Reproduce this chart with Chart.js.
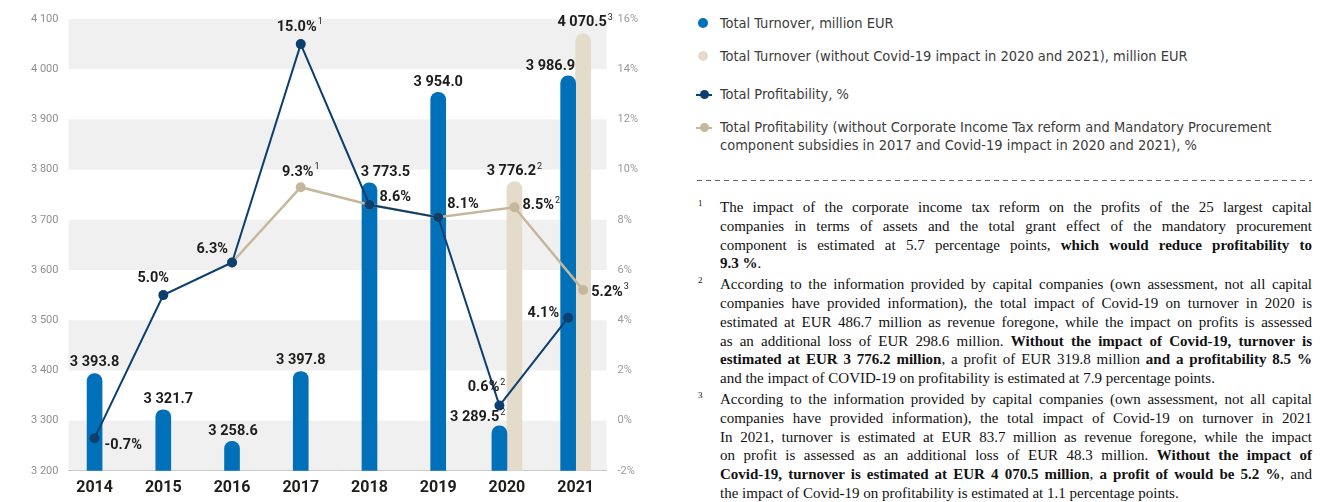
<!DOCTYPE html>
<html>
<head>
<meta charset="utf-8">
<script src="https://cdn.jsdelivr.net/npm/chart.js@4.4.0/dist/chart.umd.min.js"></script>
<style>
  body { margin: 0; background: #fff; width: 1326px; height: 502px; overflow: hidden; position: relative; }
  #chartBox { position: absolute; left: 0; top: 0; width: 655px; height: 502px; }
  #legend { position: absolute; left: 0; top: 0; font-family: "Liberation Sans Narrow", "DejaVu Sans Condensed", Roboto, sans-serif; font-size: 14.5px; color: #3c3c3b; }
  .item { position: absolute; left: 720px; white-space: nowrap; line-height: 18px; }
  .mark { position: absolute; }
  .dash { position: absolute; left: 697px; top: 180px; width: 615px; height: 1px;
          background: repeating-linear-gradient(to right, #666 0 5px, transparent 5px 9px); }
  #notes { position: absolute; left: 720px; top: 198px; width: 592px; font-family: "Liberation Serif", "DejaVu Serif", serif; font-size: 15px; line-height: 18.8px; color: #111; }
  #notes .fn { position: relative; margin-top: 2px; }
  #notes .fn:first-child { margin-top: 0; }
  #notes .num { position: absolute; left: -22px; top: -4px; font-size: 9px; }
  #notes .j { text-align: justify; text-align-last: justify; white-space: nowrap; }
  #notes .e { white-space: nowrap; }
</style>
</head>
<body>
<div id="chartBox"><canvas id="chart"></canvas></div>
<div id="legend"></div>
<div class="dash"></div>
<div id="notes">
  <div class="fn"><span class="num">1</span>
    <div class="j">The impact of the corporate income tax reform on the profits of the 25 largest capital</div>
    <div class="j">companies in terms of assets and the total grant effect of the mandatory procurement</div>
    <div class="j">component is estimated at 5.7 percentage points, <b>which would reduce profitability to</b></div>
    <div class="e"><b>9.3 %</b>.</div>
  </div>
  <div class="fn"><span class="num">2</span>
    <div class="j">According to the information provided by capital companies (own assessment, not all capital</div>
    <div class="j">companies have provided information), the total impact of Covid-19 on turnover in 2020 is</div>
    <div class="j">estimated at EUR 486.7 million as revenue foregone, while the impact on profits is assessed</div>
    <div class="j">as an additional loss of EUR 298.6 million. <b>Without the impact of Covid-19, turnover is</b></div>
    <div class="j"><b>estimated at EUR 3 776.2 million</b>, a profit of EUR 319.8 million <b>and a profitability 8.5 %</b></div>
    <div class="e">and the impact of COVID-19 on profitability is estimated at 7.9 percentage points.</div>
  </div>
  <div class="fn"><span class="num">3</span>
    <div class="j">According to the information provided by capital companies (own assessment, not all capital</div>
    <div class="j">companies have provided information), the total impact of Covid-19 on turnover in 2021</div>
    <div class="j">In 2021, turnover is estimated at EUR 83.7 million as revenue foregone, while the impact</div>
    <div class="j">on profit is assessed as an additional loss of EUR 48.3 million. <b>Without the impact of</b></div>
    <div class="j"><b>Covid-19, turnover is estimated at EUR 4 070.5 million</b>, <b>a profit of would be 5.2 %</b>, and</div>
    <div class="e">the impact of Covid-19 on profitability is estimated at 1.1 percentage points.</div>
  </div>
</div>
<script>
// data
const years = ['2014', '2015', '2016', '2017', '2018', '2019', '2020', '2021'];
const turnover = [3393.8, 3321.7, 3258.6, 3397.8, 3773.5, 3954.0, 3289.5, 3986.9];
const turnoverNoCovid = [null, null, null, null, null, null, 3776.2, 4070.5];
const profitability = [-0.7, 5.0, 6.3, 15.0, 8.6, 8.1, 0.6, 4.1];
const profitabilityAdj = [null, null, 6.3, 9.3, 8.6, 8.1, 8.5, 5.2];

// footnote marks next to the value labels
const turnoverNotes = ['', '', '', '', '', '', '2', ''];
const turnoverNoCovidNotes = ['', '', '', '', '', '', '2', '3'];
const profitabilityNotes = ['', '', '', '1', '', '', '2', ''];
const profitabilityAdjNotes = ['', '', '', '1', '', '', '2', '3'];

// axis ranges
const turnoverAxis = { min: 3200, max: 4100, step: 100 };
const profitAxis = { min: -2, max: 16, step: 2 };

const labels = [
  'Total Turnover, million EUR',
  'Total Turnover (without Covid-19 impact in 2020 and 2021), million EUR',
  'Total Profitability, %',
  'Total Profitability (without Corporate Income Tax reform and Mandatory Procurement component subsidies in 2017 and Covid-19 impact in 2020 and 2021), %'
];

const BLUE = '#0070b8';
const BEIGE_BAR = '#e4dccb';
const NAVY = '#0c3e6e';
const BEIGE_LINE = '#c6b79c';

// label placement: [align, dx, dy] from the bar top / point centre
const turnoverSpots = [['c', 0, -11], ['c', 5, -10], ['c', 1, -10], ['c', 0, -11], ['c', 16, -11], ['c', 0, -10], ['r', 6, -8], ['r', 7, -9]];
const turnoverNoCovidSpots = [null, null, null, null, null, null, ['c', 0, -10], ['c', 2, -11]];
const profitSpots = [['l', 10, 7], ['c', -10, -17], ['r', -4, -13], ['c', -1, -17], ['l', 10, -7], ['l', 9, -13], ['r', 6, -18], ['r', -9, -4]];
const profitAdjSpots = [null, null, null, ['c', 0, -15], null, null, ['l', 8, -2], ['l', 8, 2]];

const fmtTurnover = v => {
  const s = v.toFixed(1).split('.');
  return s[0].replace(/\B(?=(\d{3})+(?!\d))/g, ' ') + '.' + s[1];
};
const fmtPct = v => v.toFixed(1) + '%';

const pts = arr => arr.map((v, i) => ({ x: i, y: v }));

function drawLabel(ctx, text, note, x, y, align) {
  ctx.save();
  ctx.font = 'bold 14.5px Roboto';
  const w1 = ctx.measureText(text).width;
  ctx.font = '9px Roboto';
  const w2 = note ? ctx.measureText(note).width + 1 : 0;
  const total = w1 + w2;
  let left = x - total / 2;
  if (align === 'l') left = x;
  if (align === 'r') left = x - total;
  ctx.fillStyle = '#1d1d1b';
  ctx.textAlign = 'left';
  ctx.textBaseline = 'middle';
  ctx.font = 'bold 14.5px Roboto';
  ctx.fillText(text, left, y);
  if (note) {
    ctx.font = '9px Roboto';
    ctx.fillText(note, left + w1 + 1, y - 5);
  }
  ctx.restore();
}

const labelSets = [
  { dataset: 0, values: turnover, notes: turnoverNotes, spots: turnoverSpots, format: fmtTurnover },
  { dataset: 1, values: turnoverNoCovid, notes: turnoverNoCovidNotes, spots: turnoverNoCovidSpots, format: fmtTurnover },
  { dataset: 2, values: profitability, notes: profitabilityNotes, spots: profitSpots, format: fmtPct },
  { dataset: 3, values: profitabilityAdj, notes: profitabilityAdjNotes, spots: profitAdjSpots, format: fmtPct }
];

// grey stripes behind the plot
const bands = {
  id: 'bands',
  beforeDraw(chart) {
    const { ctx, chartArea } = chart;
    const y = chart.scales.y;
    ctx.save();
    ctx.fillStyle = '#f0f0f0';
    for (let v = turnoverAxis.min, i = 0; v < turnoverAxis.max; v += turnoverAxis.step, i++) {
      if (i % 2 !== 0) continue;
      const top = y.getPixelForValue(v + turnoverAxis.step);
      const bottom = y.getPixelForValue(v);
      ctx.fillRect(chartArea.left, top, chartArea.right - chartArea.left, bottom - top);
    }
    ctx.restore();
  }
};

// put each profitability point on top of its own bar
const alignPoints = {
  id: 'alignPoints',
  afterDatasetsUpdate(chart) {
    const blue = chart.getDatasetMeta(0).data;
    const beige = chart.getDatasetMeta(1).data;
    chart.getDatasetMeta(2).data.forEach((p, i) => { p.x = blue[i].x; });
    chart.getDatasetMeta(3).data.forEach((p, i) => {
      p.x = turnoverNoCovid[i] !== null ? beige[i].x : blue[i].x;
    });
  }
};

const valueLabels = {
  id: 'valueLabels',
  afterDatasetsDraw(chart) {
    const ctx = chart.ctx;
    labelSets.forEach(set => {
      const meta = chart.getDatasetMeta(set.dataset);
      set.values.forEach((v, i) => {
        const spot = set.spots[i];
        if (v === null || !spot) return;
        const el = meta.data[i];
        drawLabel(ctx, set.format(v), set.notes[i], el.x + spot[1], el.y + spot[2], spot[0]);
      });
    });
  }
};

const noGrid = { display: false, drawTicks: false, tickLength: 0 };

const chart = new Chart(document.getElementById('chart'), {
  type: 'bar',
  data: {
    datasets: [
      {
        type: 'bar', label: labels[0], data: pts(turnover), yAxisID: 'y',
        backgroundColor: BLUE, barThickness: 15, borderRadius: 8, borderSkipped: 'start',
        skipNull: true, order: 2
      },
      {
        type: 'bar', label: labels[1], data: pts(turnoverNoCovid), yAxisID: 'y',
        backgroundColor: BEIGE_BAR, barThickness: 15, borderRadius: 8, borderSkipped: 'start',
        skipNull: true, order: 3
      },
      {
        type: 'line', label: labels[2], data: pts(profitability), yAxisID: 'y1',
        borderColor: NAVY, borderWidth: 2, pointRadius: 5, pointBackgroundColor: NAVY,
        pointBorderWidth: 0, tension: 0, order: 0
      },
      {
        type: 'line', label: labels[3], data: pts(profitabilityAdj), yAxisID: 'y1',
        borderColor: BEIGE_LINE, borderWidth: 2.5, pointRadius: 5, pointBackgroundColor: BEIGE_LINE,
        pointBorderWidth: 0, tension: 0, order: 1
      }
    ]
  },
  options: {
    responsive: true,
    maintainAspectRatio: false,
    animation: false,
    layout: { padding: { left: 21, right: 6, top: 19, bottom: -4 } },
    plugins: { legend: { display: false }, tooltip: { enabled: false } },
    scales: {
      x: {
        type: 'linear', min: -0.38, max: 7.45, offset: false,
        grid: noGrid,
        border: { display: true, color: '#c8c8c8', width: 1 },
        ticks: {
          stepSize: 1, includeBounds: false, autoSkip: false, maxRotation: 0, padding: 8,
          color: '#1d1d1b', font: { family: 'Roboto', size: 16, weight: 'bold' },
          callback: v => Number.isInteger(v) ? (years[v] || '') : ''
        }
      },
      y: {
        position: 'left', min: turnoverAxis.min, max: turnoverAxis.max,
        grid: noGrid,
        border: { display: false },
        ticks: {
          stepSize: turnoverAxis.step, padding: 10, color: '#8f8f8f',
          font: { family: 'Roboto', size: 11 },
          callback: v => String(v).replace(/\B(?=(\d{3})+(?!\d))/g, ' ')
        }
      },
      y1: {
        position: 'right', min: profitAxis.min, max: profitAxis.max,
        grid: noGrid,
        border: { display: false },
        ticks: {
          stepSize: profitAxis.step, padding: 11, color: '#9a9a9a',
          font: { family: 'Roboto', size: 11 },
          callback: v => v + '%'
        }
      }
    }
  },
  plugins: [bands, alignPoints, valueLabels]
});

// legend panel built from the dataset labels
const legendTops = [14, 47, 85, 118];
const legend = document.getElementById('legend');
chart.data.datasets.forEach((ds, i) => {
  const item = document.createElement('div');
  item.className = 'item';
  item.style.top = legendTops[i] + 'px';
  if (i === 3) item.style.width = '580px';
  if (i === 3) item.style.whiteSpace = 'normal';
  item.textContent = ds.label;
  legend.appendChild(item);
  const mark = document.createElement('div');
  mark.className = 'mark';
  const colour = ds.type === 'bar' ? ds.backgroundColor : ds.borderColor;
  if (ds.type === 'bar') {
    mark.style.cssText = `left:698px;top:${legendTops[i] + 4}px;width:10px;height:10px;border-radius:50%;background:${colour}`;
  } else {
    mark.style.cssText = `left:696px;top:${legendTops[i] + 5}px;width:16px;height:9px;background:linear-gradient(${colour},${colour}) 0 3.5px/16px 2px no-repeat`;
    const dot = document.createElement('div');
    dot.style.cssText = `position:absolute;left:3.5px;top:0;width:9px;height:9px;border-radius:50%;background:${colour}`;
    mark.appendChild(dot);
  }
  legend.appendChild(mark);
});
</script>
</body>
</html>
